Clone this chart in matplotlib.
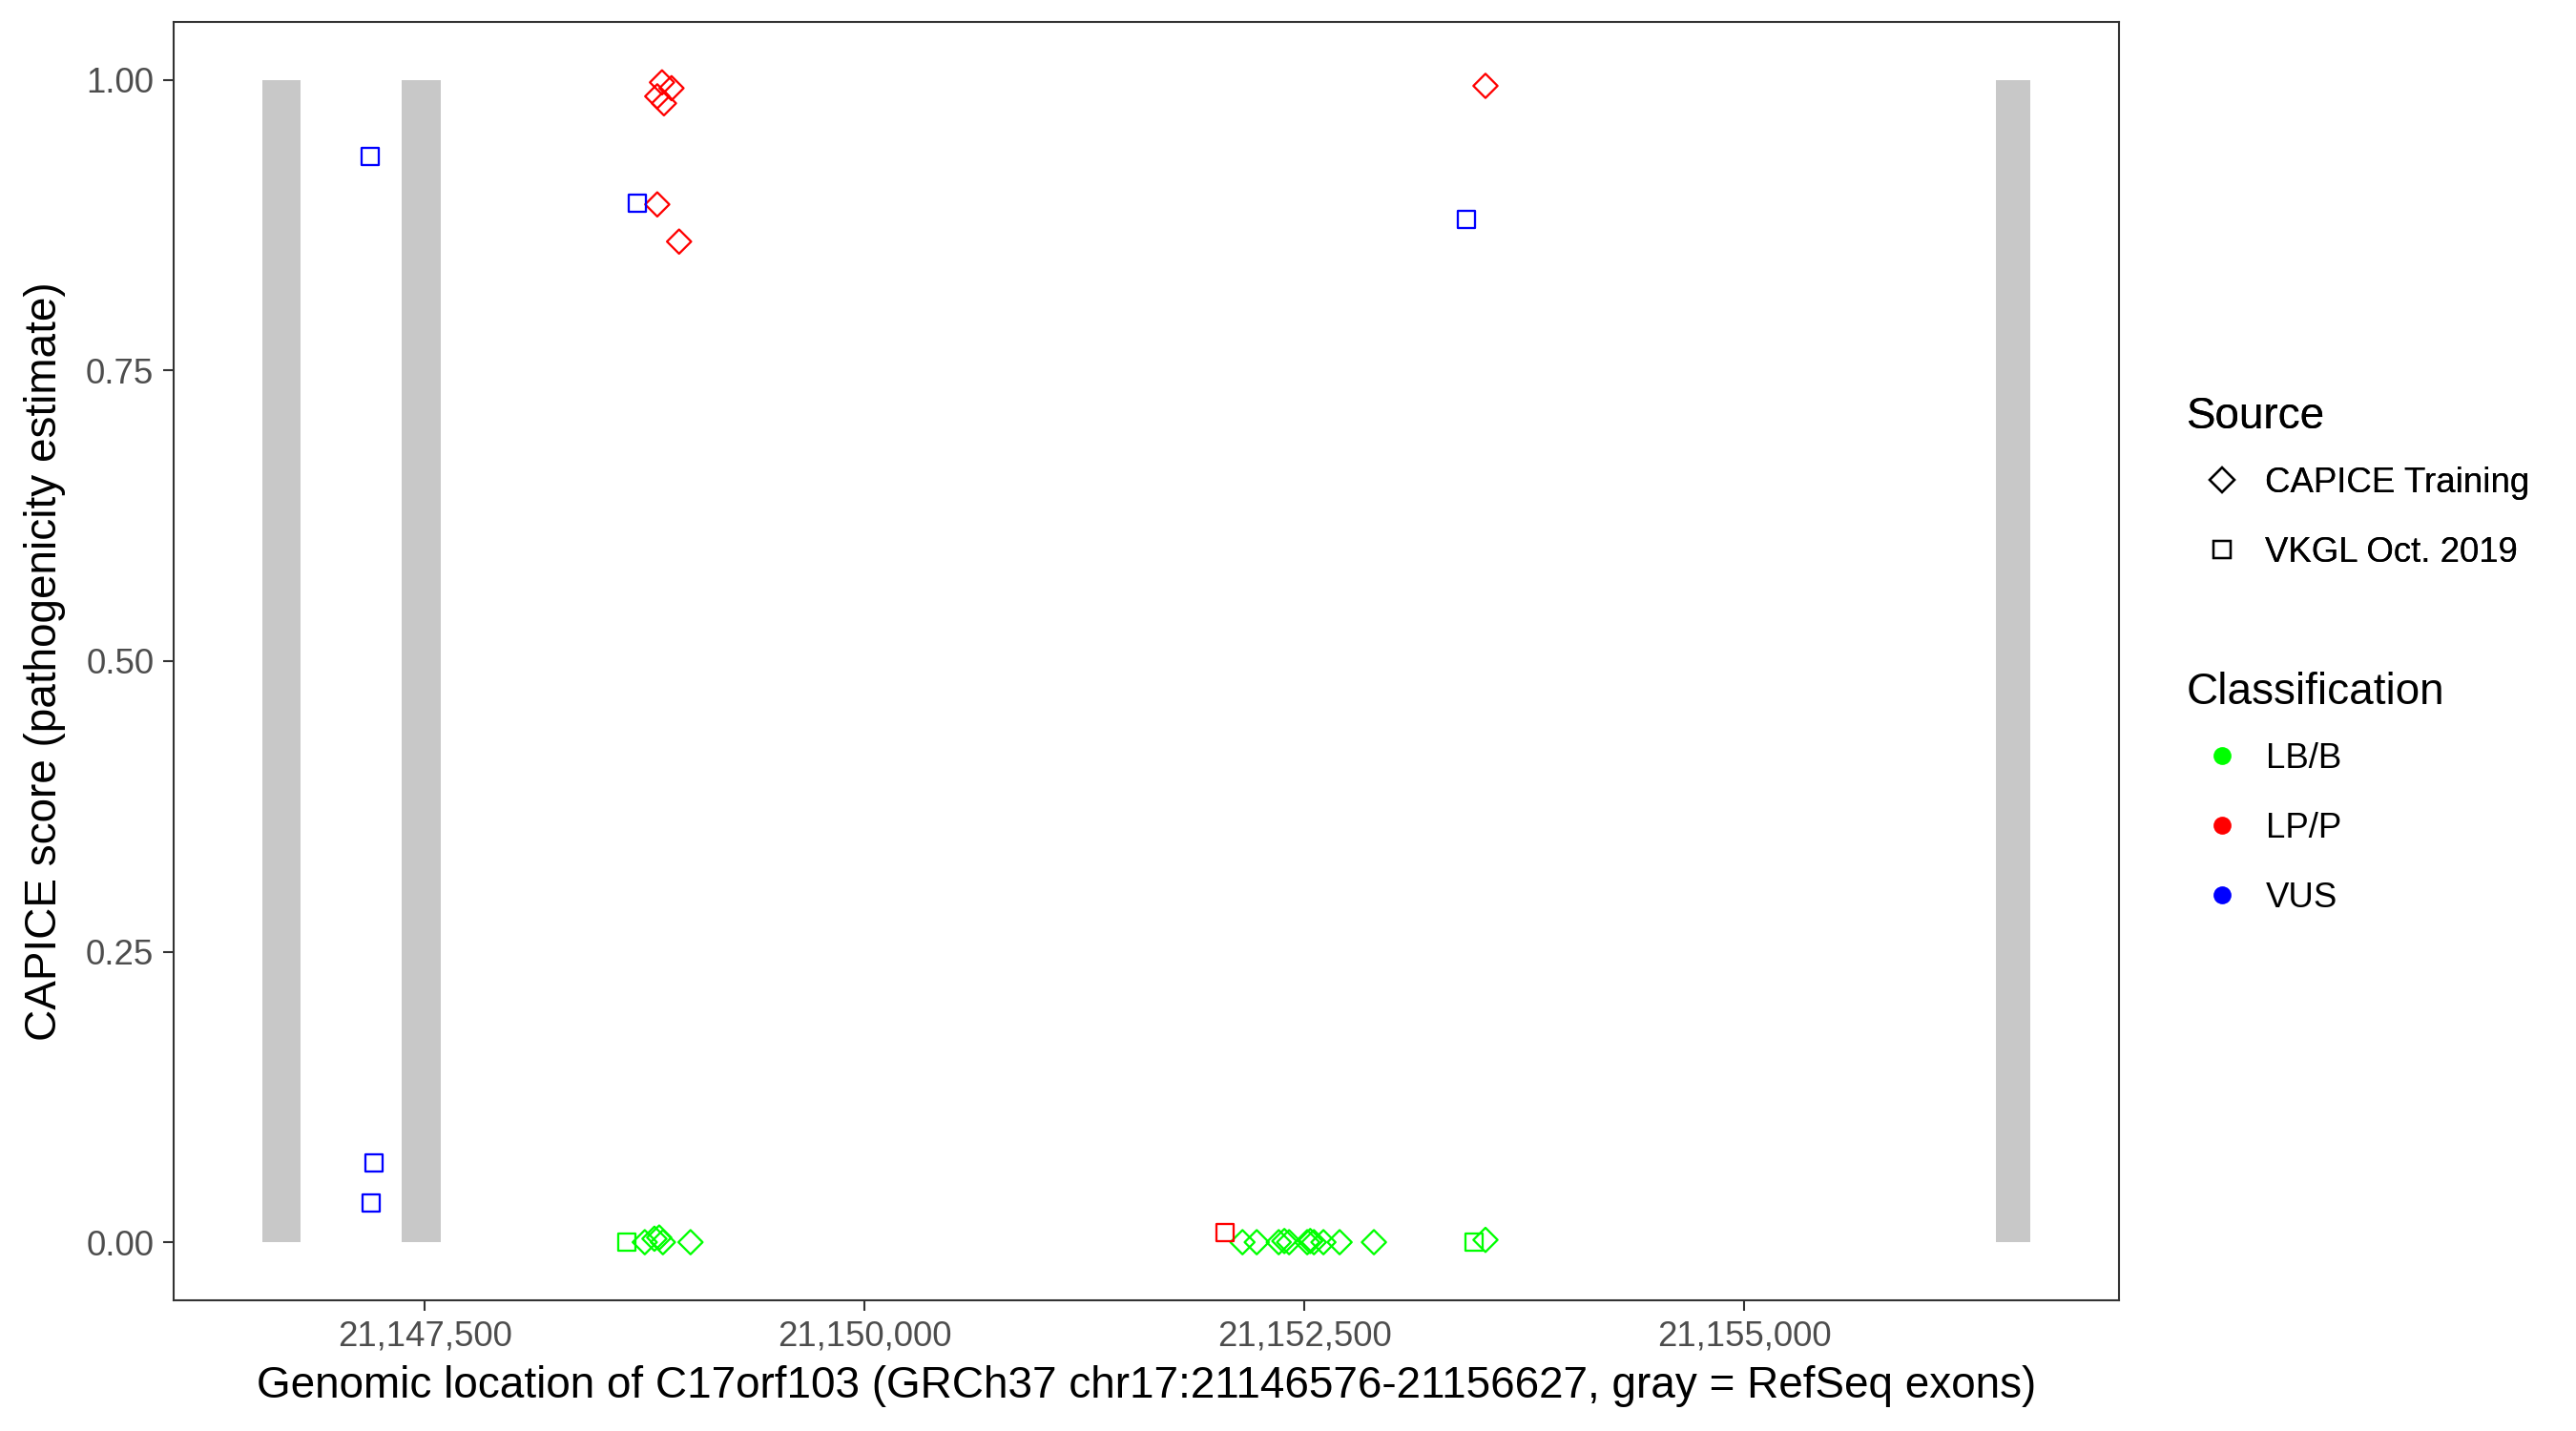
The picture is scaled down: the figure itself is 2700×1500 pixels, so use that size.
import numpy as np
import matplotlib
matplotlib.use("Agg")
import matplotlib.pyplot as plt
from matplotlib.lines import Line2D
from matplotlib.ticker import FuncFormatter

plt.rcParams['font.family'] = ['Liberation Sans', 'DejaVu Sans']

# RefSeq exons (GRCh37 chr17)
exon_start = [21146576, 21147370, 21156428]
exon_end = [21146796, 21147592, 21156627]

# CAPICE Training variants
capice_pos = [21148849, 21148903, 21148822, 21148860, 21148822, 21148946, 21153529,
              21148751, 21148806, 21148833, 21148854, 21149011,
              21152148, 21152229, 21152354, 21152386, 21152413, 21152516, 21152533,
              21152554, 21152608, 21152700, 21152895, 21153529]
capice_score = [0.998, 0.993, 0.986, 0.980, 0.893, 0.861, 0.995,
                0.0, 0.003, 0.004, 0.0, 0.0,
                0.0, 0.0, 0.0, 0.001, 0.0, 0.0, 0.001,
                0.0, 0.0, 0.0, 0.0, 0.002]
capice_class = ['LP/P'] * 7 + ['LB/B'] * 17

# VKGL Oct. 2019 variants
vkgl_pos = [21147191, 21147213, 21147197, 21148708, 21153421, 21152050, 21148648, 21153464]
vkgl_score = [0.934, 0.068, 0.034, 0.894, 0.880, 0.008, 0.0, 0.0]
vkgl_class = ['VUS', 'VUS', 'VUS', 'VUS', 'VUS', 'LP/P', 'LB/B', 'LB/B']

class_names = ['LB/B', 'LP/P', 'VUS']
class_colors = {'LB/B': '#00FF00', 'LP/P': '#FF0000', 'VUS': '#0000FF'}
source_names = ['CAPICE Training', 'VKGL Oct. 2019']
source_markers = {'CAPICE Training': 'D', 'VKGL Oct. 2019': 's'}

gene_start, gene_end = 21146576, 21156627

fig = plt.figure(figsize=(9, 5), dpi=300)
ax = fig.add_axes([182 / 2700, 1 - 1363 / 1500, (2221 - 182) / 2700, (1363 - 23) / 1500])

# exons
ax.bar(exon_start, 1, width=np.array(exon_end) - np.array(exon_start), bottom=0,
       align='edge', color='#C8C8C8', linewidth=0, zorder=1)

# points
data = {'CAPICE Training': (capice_pos, capice_score, capice_class),
        'VKGL Oct. 2019': (vkgl_pos, vkgl_score, vkgl_class)}
for src in source_names:
    pos, score, cls = data[src]
    pos = np.array(pos); score = np.array(score); cls = np.array(cls)
    for c in class_names:
        m = cls == c
        if m.sum() == 0:
            continue
        ax.scatter(pos[m], score[m], marker=source_markers[src], s=4.3 ** 2,
                   facecolors='none', edgecolors=class_colors[c], linewidths=0.55, zorder=3)

pad = 0.05 * (gene_end - gene_start)
ax.set_xlim(gene_start - pad, gene_end + pad)
ax.set_ylim(-0.05, 1.05)
ax.set_xticks([21147500, 21150000, 21152500, 21155000])
ax.set_yticks([0, 0.25, 0.5, 0.75, 1.0])
ax.xaxis.set_major_formatter(FuncFormatter(lambda v, p: f'{int(v):,}'))
ax.yaxis.set_major_formatter(FuncFormatter(lambda v, p: f'{v:.2f}'))
ax.tick_params(labelsize=8.8, labelcolor='#4D4D4D', color='#333333', width=0.5, length=2.75, pad=2.2)
for s in ax.spines.values():
    s.set_linewidth(0.5)
    s.set_color('#333333')

ax.set_xlabel('Genomic location of C17orf103 (GRCh37 chr17:21146576-21156627, gray = RefSeq exons)',
              fontsize=11, labelpad=3)
ax.set_ylabel('CAPICE score (pathogenicity estimate)', fontsize=11, labelpad=5)

# legends
src_handles = [Line2D([], [], marker=source_markers[s], linestyle='none', markersize=4.3,
                      markerfacecolor='none', markeredgecolor='black', markeredgewidth=0.55)
               for s in source_names]
leg1 = fig.legend(src_handles, source_names, loc='upper left', bbox_to_anchor=(2292 / 2700, 1 - 415 / 1500),
                  frameon=False, fontsize=8.8, title='Source', title_fontsize=11, alignment='left',
                  borderpad=0, borderaxespad=0, handlelength=2.0, handletextpad=0.25, labelspacing=1.04)
cls_handles = [Line2D([], [], marker='o', linestyle='none', markersize=4.5,
                      markerfacecolor=class_colors[c], markeredgecolor=class_colors[c], markeredgewidth=0)
               for c in class_names]
leg2 = fig.legend(cls_handles, class_names, loc='upper left', bbox_to_anchor=(2292 / 2700, 1 - 704 / 1500),
                  frameon=False, fontsize=8.8, title='Classification', title_fontsize=11, alignment='left',
                  borderpad=0, borderaxespad=0, handlelength=2.0, handletextpad=0.25, labelspacing=1.04)
# tighter gap between legend title and first key
leg1._legend_box.sep = 7.1
leg2._legend_box.sep = 7.1
fig.add_artist(leg1)

fig.savefig('out.png', dpi=300)
